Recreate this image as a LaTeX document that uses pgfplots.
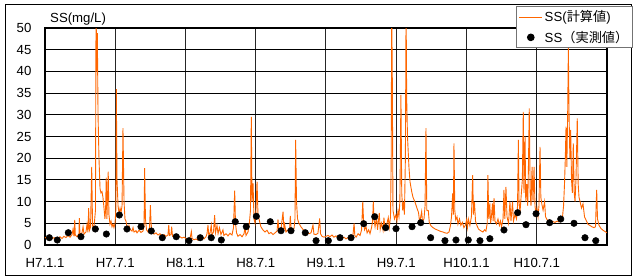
\documentclass[border=0pt]{standalone}
\usepackage{fontspec}
\setmainfont{Liberation Sans}
\newfontfamily\jp{Noto Sans CJK JP}
\usepackage{pgfplots}
\pgfplotsset{compat=1.18}
\definecolor{ssorange}{RGB}{255,102,0}
\pgfplotsset{
  lineleg/.style={legend image code/.code={\draw[##1] (0pt,0pt) -- (23pt,0pt);}},
  markleg/.style={legend image code/.code={\draw[mark repeat=2,mark phase=2,##1] plot coordinates {(0pt,0pt) (11.5pt,0pt) (23pt,0pt)};}},
}
\begin{document}
\begin{tikzpicture}[x=1pt,y=1pt]
\fontsize{13.2}{15}\selectfont
\useasboundingbox (0,0) rectangle (635,278);
\draw[line width=1pt] (5,2) rectangle (631,273);
\draw[line width=2.8pt, black] (45,33) rectangle (607,250);
\begin{axis}[
  name=ax,
  at={(45pt,33pt)}, anchor=south west,
  scale only axis, width=562pt, height=217pt,
  xmin=0, xmax=48, ymin=0, ymax=50,
  xtick={0,6,...,42},
  xticklabels={H7.1.1,H7.7.1,H8.1.1,H8.7.1,H9.1.1,H9.7.1,H10.1.1,H10.7.1},
  ytick={0,5,...,50},
  major tick length=0pt,
  grid=major,
  x grid style={black!85, line width=1pt},
  y grid style={black, line width=1pt},
  axis line style={line width=1pt, black},
  ticklabel style={font=\fontsize{13.2}{15}\selectfont},
  /pgf/number format/assume math mode=true,
  yticklabel style={xshift=-9pt},
  xticklabel style={yshift=-9pt},
  legend style={at={(1.046,1.101)}, anchor=north east, draw=black!55, line width=1pt,
    fill=white, inner sep=2pt, row sep=3pt, font=\fontsize{13.2}{15}\selectfont, legend cell align=left},
]
\addplot[ssorange, line width=0.9pt, lineleg] coordinates {
(0,1.8)(0.13,1.5)(0.26,1.9)(0.43,1.6)(0.6,1.4)(0.77,1.7)(0.94,1.3)(1.11,1.6)(1.28,1.9)(1.45,1.5)
(1.62,2.0)(1.79,1.7)(1.96,2.2)(2.14,1.8)(2.31,2.4)(2.39,3.6)(2.48,2.0)(2.54,5.8)(2.59,2.3)(2.73,1.9)
(2.90,2.6)(2.93,6.2)(2.99,2.4)(3.16,2.8)(3.25,4.2)(3.33,2.5)(3.50,3.0)(3.59,4.8)(3.67,2.9)(3.73,8.5)
(3.80,3.4)(3.89,4.1)(3.99,18.0)(4.06,4.5)(4.14,3.6)(4.23,5.5)(4.31,8)(4.36,55)(4.42,40)(4.47,48.8)
(4.53,30)(4.61,20)(4.70,13)(4.78,12)(4.87,12.3)(4.95,11)(5.04,8.5)(5.12,6)(5.18,8.5)(5.23,15.5)
(5.29,6)(5.40,16.9)(5.46,7)(5.55,4.8)(5.64,5.5)(5.72,4.2)(5.81,4.8)(5.89,4.0)(5.98,5.0)(6.05,8)
(6.09,35.9)(6.15,15)(6.24,9)(6.32,7.4)(6.41,8.5)(6.49,7.5)(6.58,9)(6.66,26.9)(6.75,10)(6.83,6)
(6.92,5.5)(7.00,4.2)(7.09,3.8)(7.17,4.5)(7.26,3.6)(7.43,3.2)(7.52,4.0)(7.60,3.0)(7.77,3.3)(7.86,2.8)
(8.03,3.4)(8.20,2.9)(8.37,3.2)(8.46,4.5)(8.51,17.7)(8.58,6)(8.67,3.5)(8.80,3.0)(8.93,4.0)(9.00,9.2)
(9.06,5)(9.14,3.0)(9.31,2.5)(9.48,2.8)(9.65,2.3)(9.82,2.6)(9.99,2.1)(10.16,2.4)(10.33,2.0)(10.50,2.3)
(10.57,4.6)(10.63,2.2)(10.76,2.4)(10.82,4.2)(10.89,2.0)(11.02,1.8)(11.19,2.1)(11.36,1.7)(11.53,1.9)(11.70,1.6)
(11.87,1.8)(12.04,1.5)(12.21,1.3)(12.39,1.6)(12.50,3.1)(12.56,1.5)(12.73,1.2)(12.90,1.4)(13.07,1.1)(13.24,1.3)
(13.41,1.6)(13.58,1.4)(13.75,1.9)(13.84,2.6)(13.92,4.6)(13.99,2.2)(14.09,2.7)(14.20,4.6)(14.26,2.3)(14.39,3.0)
(14.49,6.9)(14.56,2.8)(14.69,4.5)(14.78,2.6)(14.90,4.0)(15.03,2.4)(15.20,3.5)(15.28,2.2)(15.46,2.6)(15.63,2.1)
(15.80,2.7)(15.97,2.3)(16.10,4.0)(16.20,12.5)(16.27,5)(16.36,2.8)(16.48,2.0)(16.66,2.4)(16.83,1.9)(17.00,2.6)
(17.08,4.0)(17.17,2.2)(17.34,3.0)(17.47,5.5)(17.55,8)(17.62,29.5)(17.68,10)(17.77,14.2)(17.85,6)(17.94,5)
(18.02,8)(18.11,14.6)(18.19,7)(18.33,5.4)(18.44,4.2)(18.61,3.5)(18.79,3.0)(18.96,3.4)(19.13,2.6)(19.30,2.9)
(19.47,2.4)(19.65,2.8)(19.82,3.2)(19.90,5.9)(19.99,3.0)(20.16,3.6)(20.33,7.7)(20.41,3.5)(20.47,4.7)(20.58,3.0)
(20.75,3.5)(20.88,3.0)(20.95,6.7)(21.03,3.5)(21.14,3.0)(21.27,3.8)(21.35,6)(21.41,24.2)(21.48,10)(21.57,6)
(21.69,5)(21.86,4.2)(22.03,3.6)(22.21,3.2)(22.38,2.9)(22.55,2.6)(22.72,2.8)(22.89,4.6)(22.97,2.5)(23.14,2.4)
(23.31,2.7)(23.46,6.1)(23.53,2.6)(23.66,2.0)(23.83,1.8)(24.00,2.0)(24.17,2.2)(24.34,1.9)(24.51,2.3)(24.68,1.8)
(24.85,2.1)(25.02,1.7)(25.20,2.0)(25.37,1.5)(25.54,1.8)(25.71,1.4)(25.88,1.7)(26.05,1.3)(26.22,1.6)(26.31,2.5)
(26.40,5.0)(26.46,2.2)(26.57,1.8)(26.74,2.6)(26.91,2.2)(27.04,3.5)(27.14,10.0)(27.21,5.5)(27.29,3.5)(27.42,4.2)
(27.51,2.8)(27.64,3.5)(27.76,2.6)(27.89,4.0)(27.98,5.5)(28.04,10.0)(28.10,6)(28.19,4.2)(28.31,6.5)(28.40,3.5)
(28.55,7.4)(28.63,3.6)(28.74,5)(28.87,3.4)(28.95,6.3)(29.04,3.5)(29.17,4.5)(29.32,6.3)(29.40,4.0)(29.51,6.5)
(29.57,20)(29.61,55)(29.66,40)(29.72,8)(29.85,6)(29.98,7)(30.06,5.5)(30.15,7.9)(30.23,6.5)(30.31,10)
(30.40,34.6)(30.47,12)(30.55,8)(30.62,9.9)(30.70,7)(30.78,20)(30.84,55)(30.89,34)(30.96,25)(31.09,17.7)
(31.18,14.5)(31.32,12.3)(31.43,11)(31.60,9.9)(31.77,8.5)(31.90,7.5)(31.99,5.5)(32.07,6.2)(32.17,7.7)(32.24,5.5)
(32.37,6.0)(32.46,9)(32.54,26.9)(32.61,8)(32.74,7.9)(32.82,5.2)(32.97,4.4)(33.14,4.0)(33.31,3.7)(33.48,3.5)
(33.65,3.3)(33.82,3.1)(33.99,3.0)(34.16,2.8)(34.34,2.7)(34.51,3.0)(34.63,4.5)(34.72,6.5)(34.82,11.9)(34.88,7)
(34.93,23.4)(35.00,8)(35.08,5.8)(35.19,6.5)(35.27,4.8)(35.40,6)(35.52,4.5)(35.65,5.2)(35.78,4.0)(35.91,4.6)
(36.01,5.8)(36.08,4.0)(36.16,6)(36.29,4.5)(36.42,6.5)(36.53,16.1)(36.59,7)(36.68,9.9)(36.77,5.5)(36.89,4.5)
(37.02,3.7)(37.15,3.4)(37.27,3.2)(37.40,3.0)(37.54,3.5)(37.66,3.2)(37.77,5)(37.83,16.1)(37.90,6)(37.99,9.6)
(38.06,5)(38.13,6.5)(38.22,9.6)(38.28,5.5)(38.35,10.8)(38.43,5.5)(38.56,4.8)(38.69,6)(38.81,4.5)(38.90,5.5)
(38.99,4.2)(39.12,6.0)(39.20,12.7)(39.27,6)(39.37,13.4)(39.46,6.5)(39.59,5.0)(39.71,10)(39.80,5.5)(39.93,10)
(40.01,5.5)(40.14,7)(40.27,6)(40.36,9)(40.43,24.2)(40.49,10)(40.57,7.5)(40.66,11)(40.77,15)(40.85,30.7)
(40.91,12)(41.00,25)(41.06,10)(41.15,14)(41.23,9)(41.29,18)(41.36,31.5)(41.44,12)(41.51,9)(41.60,18)
(41.68,10)(41.77,18)(41.85,9)(41.94,7)(42.02,8.5)(42.11,6.5)(42.19,9)(42.28,22.6)(42.35,11)(42.43,9.5)
(42.54,8)(42.67,10)(42.75,6.5)(42.88,5.8)(43.05,5.5)(43.22,5.3)(43.39,5.4)(43.56,5.2)(43.73,5.5)(43.90,5.3)
(44.07,5.4)(44.20,6.5)(44.29,9)(44.37,14)(44.44,20)(44.50,27.3)(44.57,18)(44.64,30)(44.70,45.4)(44.76,30)
(44.83,20)(44.90,26.5)(44.97,15)(45.04,12)(45.12,23.4)(45.20,12)(45.27,10)(45.35,15)(45.46,29.2)(45.54,14)
(45.61,11)(45.70,10)(45.82,8.5)(45.95,9.5)(46.08,6.5)(46.20,5.8)(46.37,4.8)(46.54,4.5)(46.71,4.2)(46.89,4.0)
(47.02,4.2)(47.06,8)(47.12,12.7)(47.19,6)(47.32,4.5)(47.49,3.8)(47.66,3.4)(47.83,3.1)(48.00,2.8)
};
\addlegendentry{SS({\jp 計算値})}
\addplot[only marks, mark=*, mark size=3.3pt, black, markleg] coordinates {
(0.37,1.68)(1.05,1.15)(1.99,2.83)(3.07,1.91)(4.30,3.69)(5.24,2.53)(6.35,6.91)(7.00,3.69)(8.20,4.22)(9.08,3.23)
(10.02,1.68)(11.21,1.91)(12.30,0.99)(13.26,1.68)(14.20,1.68)(15.06,1.15)(16.25,5.37)(17.19,4.22)(18.05,6.61)(19.24,5.37)
(20.16,3.29)(21.01,3.29)(22.23,2.83)(23.15,0.99)(24.20,0.99)(25.20,1.68)(26.14,1.68)(27.22,4.91)(28.16,6.52)(29.10,3.99)
(29.98,3.76)(31.35,4.22)(32.09,5.14)(32.94,1.68)(34.16,0.99)(35.10,1.15)(36.15,1.15)(37.15,0.99)(38.00,1.45)(39.20,3.46)
(40.37,7.44)(41.08,4.68)(41.94,7.21)(43.10,5.14)(44.05,5.99)(45.18,5.00)(46.12,1.68)(47.04,0.99)
};
\addlegendentry{SS{\jp （実測値）}}
\end{axis}
\node[anchor=base west, inner sep=0pt, font=\fontsize{13.2}{15}\selectfont] at ([xshift=5pt,yshift=6pt]ax.north west) {SS(mg/L)};
\end{tikzpicture}
\end{document}
